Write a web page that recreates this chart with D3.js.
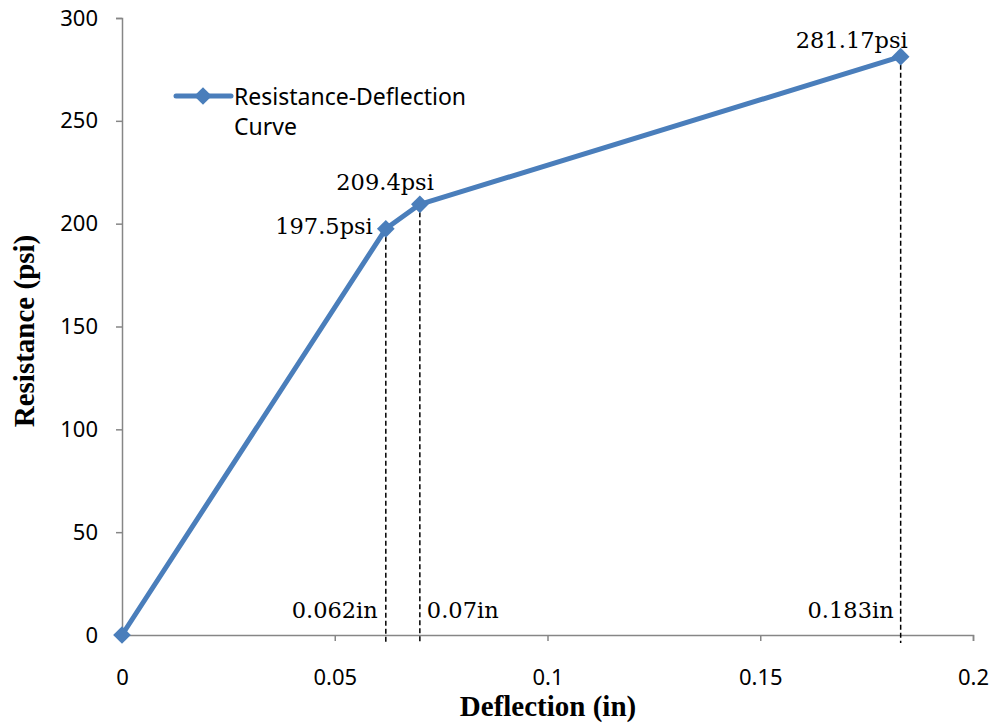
<!DOCTYPE html>
<html>
<head>
<meta charset="utf-8">
<script src="https://cdn.jsdelivr.net/npm/d3@7"></script>
<style>
  body { margin: 0; background: #fff; }
</style>
</head>
<body>
<div id="chart"></div>
<script>
const deflection = [0, 0.062, 0.07, 0.183];
const resistance = [0, 197.5, 209.4, 281.17];
const psiLabels = ["", "197.5psi", "209.4psi", "281.17psi"];
const inLabels = ["", "0.062in", "0.07in", "0.183in"];
const xTicks = [0, 0.05, 0.1, 0.15, 0.2];
const yTicks = [0, 50, 100, 150, 200, 250, 300];
const seriesName = ["Resistance-Deflection", "Curve"];

const width = 994, height = 727;
const margin = { top: 18, right: 21, bottom: 92, left: 122 };
const innerW = width - margin.left - margin.right;
const innerH = height - margin.top - margin.bottom;

const svg = d3.select("#chart").append("svg")
  .attr("width", width).attr("height", height);

const g = svg.append("g").attr("transform", `translate(${margin.left},${margin.top})`);

const x = d3.scaleLinear().domain([0, 0.2]).range([0, innerW]);
const y = d3.scaleLinear().domain([0, 300]).range([innerH, 0]);

const sansFont = "'Noto Sans', sans-serif";
const serifFont = "'DejaVu Serif', serif";
const titleFont = "'Liberation Serif', serif";
const blue = "#4A7EBB";
const axisGray = "#868686";

// axes
const xAxis = g.append("g").attr("transform", `translate(0,${innerH})`)
  .call(d3.axisBottom(x).tickValues(xTicks).tickFormat(d3.format("")).tickSizeOuter(0).tickSize(6).tickPadding(28));
const yAxis = g.append("g")
  .call(d3.axisLeft(y).tickValues(yTicks).tickSizeOuter(0).tickSize(6).tickPadding(18));

[xAxis, yAxis].forEach(a => {
  a.select(".domain").attr("stroke", axisGray).attr("stroke-width", 1.5);
  a.selectAll(".tick line").attr("stroke", axisGray).attr("stroke-width", 1.5);
  a.selectAll("text").attr("fill", "#000").style("font-family", sansFont).style("font-size", "22px");
});

// dashed drop lines
g.selectAll(".drop")
  .data(deflection.slice(1).map((d, i) => ({ x: d, y: resistance[i + 1] })))
  .join("line")
  .attr("x1", d => x(d.x)).attr("x2", d => x(d.x))
  .attr("y1", d => y(d.y)).attr("y2", y(0) + 8)
  .attr("stroke", "#000").attr("stroke-width", 1.5)
  .attr("stroke-dasharray", "5,3");

// series line
const pts = deflection.map((d, i) => ({ x: d, y: resistance[i] }));
g.append("path")
  .datum(pts)
  .attr("fill", "none")
  .attr("stroke", blue)
  .attr("stroke-width", 5)
  .attr("stroke-linejoin", "round")
  .attr("d", d3.line().x(d => x(d.x)).y(d => y(d.y)));

const diamond = d3.symbol().type(d3.symbolDiamond2).size(200);
g.selectAll(".marker")
  .data(pts)
  .join("path")
  .attr("transform", d => `translate(${x(d.x)},${y(d.y)})`)
  .attr("d", diamond)
  .attr("fill", blue);

// value labels
const psiPos = [null, { dx: -13, dy: 5 }, { dx: 14, dy: -14 }, { dx: 7, dy: -9 }];
const inPos = [null, { dx: -8, anchor: "end" }, { dx: 7, anchor: "start" }, { dx: -7, anchor: "end" }];
pts.forEach((p, i) => {
  if (!psiLabels[i]) return;
  g.append("text")
    .attr("x", x(p.x) + psiPos[i].dx).attr("y", y(p.y) + psiPos[i].dy)
    .attr("text-anchor", "end")
    .style("font-family", serifFont).style("font-size", "22.5px")
    .text(psiLabels[i]);
  g.append("text")
    .attr("x", x(p.x) + inPos[i].dx).attr("y", y(0) - 17)
    .attr("text-anchor", inPos[i].anchor)
    .style("font-family", serifFont).style("font-size", "22.5px")
    .text(inLabels[i]);
});

// legend
const legend = svg.append("g").attr("transform", "translate(176,96)");
legend.append("line").attr("x1", 0).attr("x2", 55).attr("y1", 0).attr("y2", 0)
  .attr("stroke", blue).attr("stroke-width", 5).attr("stroke-linecap", "round");
legend.append("path").attr("transform", "translate(27,0)").attr("d", diamond).attr("fill", blue);
seriesName.forEach((t, i) => {
  legend.append("text")
    .attr("x", 58).attr("y", 9 + i * 30)
    .style("font-family", sansFont).style("font-size", "23px")
    .text(t);
});

// axis titles
svg.append("text")
  .attr("x", 548).attr("y", 716)
  .attr("text-anchor", "middle")
  .style("font-family", titleFont).style("font-weight", "bold").style("font-size", "29px")
  .text("Deflection (in)");
svg.append("text")
  .attr("transform", "rotate(-90)")
  .attr("x", -331).attr("y", 34)
  .attr("text-anchor", "middle")
  .style("font-family", titleFont).style("font-weight", "bold").style("font-size", "29px")
  .text("Resistance (psi)");
</script>
</body>
</html>
